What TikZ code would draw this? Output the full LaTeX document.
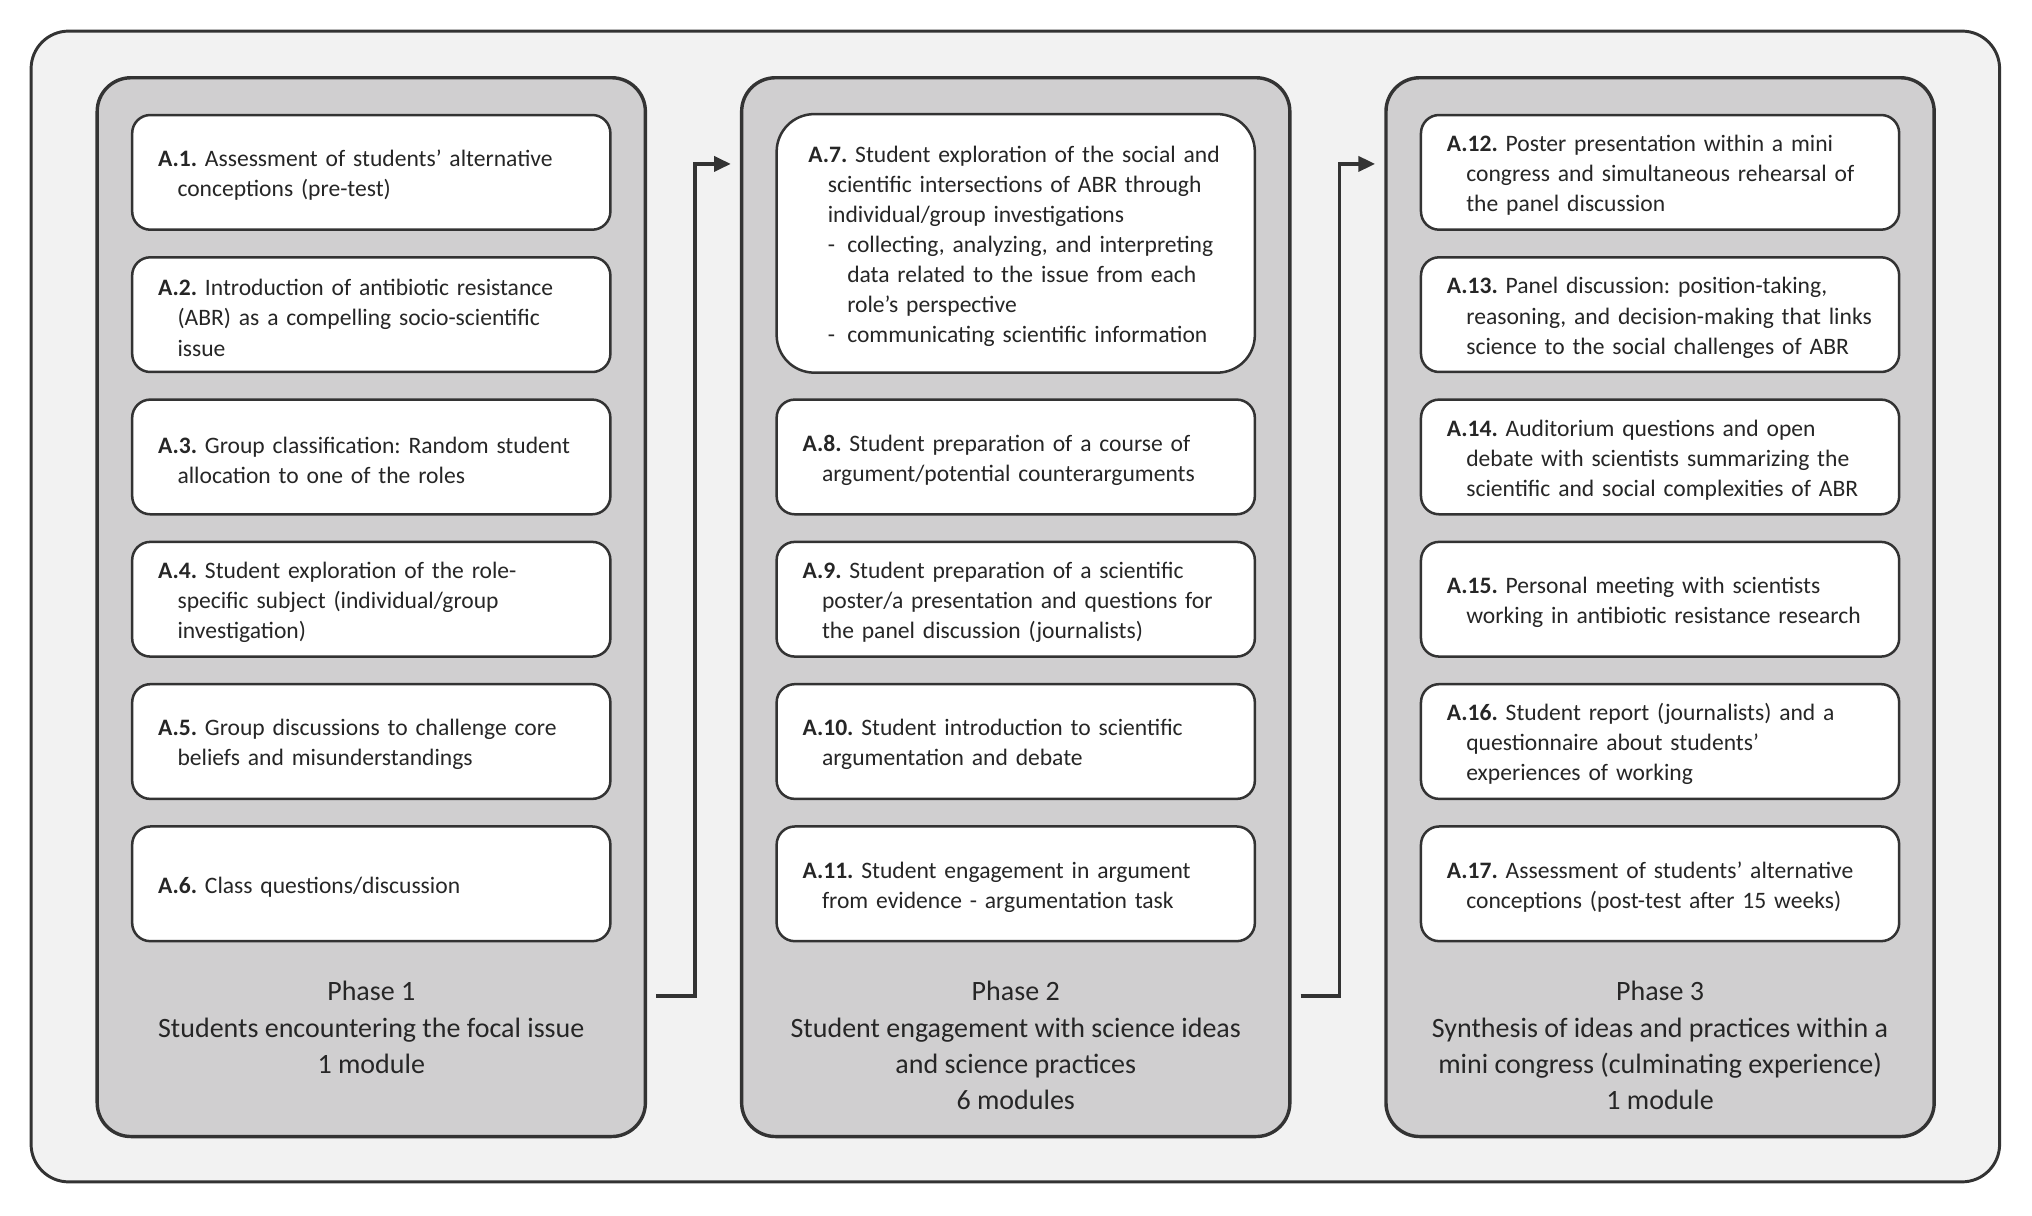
\documentclass[tikz,border=0pt]{standalone}
\usepackage{fontspec}
\setmainfont{Carlito}
\usetikzlibrary{calc,arrows.meta}
\definecolor{framegray}{HTML}{F2F2F2}
\definecolor{panelgray}{HTML}{D0CFD0}
\definecolor{edgegray}{HTML}{333333}
\definecolor{inkgray}{HTML}{262626}
\frenchspacing
\tikzset{%
	phasebox/.style={draw=edgegray, line width=1.5pt, fill=panelgray, rounded corners=5.2mm,
		minimum width=84.6mm, minimum height=163.4mm, inner sep=0pt},
	actbox/.style={draw=edgegray, line width=1.1pt, fill=white, rounded corners=2.8mm,
		minimum width=73.8mm, minimum height=#1, text width=72.8mm, inner xsep=0.5mm, inner ysep=0pt},
	actbox/.default=17.7mm,
	phasetext/.style={align=center, anchor=north, inner sep=0pt, font=\fontsize{12.3}{15.9}\selectfont},
	flow/.style={draw=edgegray, line width=1.7pt, -{Triangle[length=2.6mm, width=2.3mm]}}
}
% activity text: bold number, hanging indent for the following lines
\newcommand{\acttext}[3][3.5mm]{\leftskip=#1\rightskip=0pt plus 1fil\parfillskip=0pt plus 1fil%
	\hangindent=3mm\hangafter=1\noindent\rule{0pt}{10pt}\textbf{#2} #3\par}
\newcommand{\dashitem}{\makebox[3mm][l]{-}}

\begin{document}
\begin{tikzpicture}[x=0.2mm, y=-0.2mm, font=\fontsize{10.35}{13.2}\selectfont, text=inkgray]
				\useasboundingbox (0,0) rectangle (1568,938.3);
				\draw [draw=edgegray, line width=1.3pt, fill=framegray, rounded corners=5.8mm] (24,24) rectangle (1543,912);
				% phases
				\node [phasebox] (p1) at (286.5,468.5) {};
				\node [phasebox] (p2) at (783.8,468.5) {};
				\node [phasebox] (p3) at (1281,468.5) {};
				% phase 1
				\node [actbox] (a1) at (286.5,133) {\acttext{A.1.}{Assessment of students’ alternative\newline conceptions (pre-test)}};
				\node [actbox] (a2) at (286.5,242.8) {\acttext{A.2.}{Introduction of antibiotic resistance\newline (ABR) as a compelling socio-scientific\newline issue}};
				\node [actbox] (a3) at (286.5,352.6) {\acttext{A.3.}{Group classification: Random student\newline allocation to one of the roles}};
				\node [actbox] (a4) at (286.5,462.4) {\acttext{A.4.}{Student exploration of the role-\newline specific subject (individual/group\newline investigation)}};
				\node [actbox] (a5) at (286.5,572.2) {\acttext{A.5.}{Group discussions to challenge core\newline beliefs and misunderstandings}};
				\node [actbox] (a6) at (286.5,682) {\acttext{A.6.}{Class questions/discussion}};
				\node [phasetext] (t1) at (286.5,757) {Phase 1\\Students encountering the focal issue\\1 module};
				% phase 2
				\node [actbox=39.9mm, rounded corners=5.8mm] (a7) at (783.8,187.8) {\acttext[4.4mm]{A.7.}{Student exploration of the social and\newline scientific intersections of ABR through\newline individual/group investigations\newline \dashitem collecting, analyzing, and interpreting\newline \hspace*{3mm}data related to the issue from each\newline \hspace*{3mm}role’s perspective\newline \dashitem communicating scientific information}};
				\node [actbox] (a8) at (783.8,352.6) {\acttext{A.8.}{Student preparation of a course of\newline argument/potential counterarguments}};
				\node [actbox] (a9) at (783.8,462.4) {\acttext{A.9.}{Student preparation of a scientific\newline poster/a presentation and questions for\newline the panel discussion (journalists)}};
				\node [actbox] (a10) at (783.8,572.2) {\acttext{A.10.}{Student introduction to scientific\newline argumentation and debate}};
				\node [actbox] (a11) at (783.8,682) {\acttext{A.11.}{Student engagement in argument\newline from evidence - argumentation task}};
				\node [phasetext] (t2) at (783.8,757) {Phase 2\\Student engagement with science ideas\\and science practices\\6 modules};
				% phase 3
				\node [actbox] (a12) at (1281,133) {\acttext{A.12.}{Poster presentation within a mini\newline congress and simultaneous rehearsal of\newline the panel discussion}};
				\node [actbox] (a13) at (1281,242.8) {\acttext{A.13.}{Panel discussion: position-taking,\newline reasoning, and decision-making that links\newline science to the social challenges of ABR}};
				\node [actbox] (a14) at (1281,352.6) {\acttext{A.14.}{Auditorium questions and open\newline debate with scientists summarizing the\newline scientific and social complexities of ABR}};
				\node [actbox] (a15) at (1281,462.4) {\acttext{A.15.}{Personal meeting with scientists\newline working in antibiotic resistance research}};
				\node [actbox] (a16) at (1281,572.2) {\acttext{A.16.}{Student report (journalists) and a\newline questionnaire about students’\newline experiences of working}};
				\node [actbox] (a17) at (1281,682) {\acttext{A.17.}{Assessment of students’ alternative\newline conceptions (post-test after 15 weeks)}};
				\node [phasetext] (t3) at (1281,757) {Phase 3\\Synthesis of ideas and practices within a\\mini congress (culminating experience)\\1 module};
				% links between phases
				\draw [flow] ($(p1.east)+(7,300)$) -- ++(30,0) |- ($(p2.west)+(-7,-342)$);
				\draw [flow] ($(p2.east)+(7,300)$) -- ++(30,0) |- ($(p3.west)+(-7,-342)$);
			\end{tikzpicture}
\end{document}
